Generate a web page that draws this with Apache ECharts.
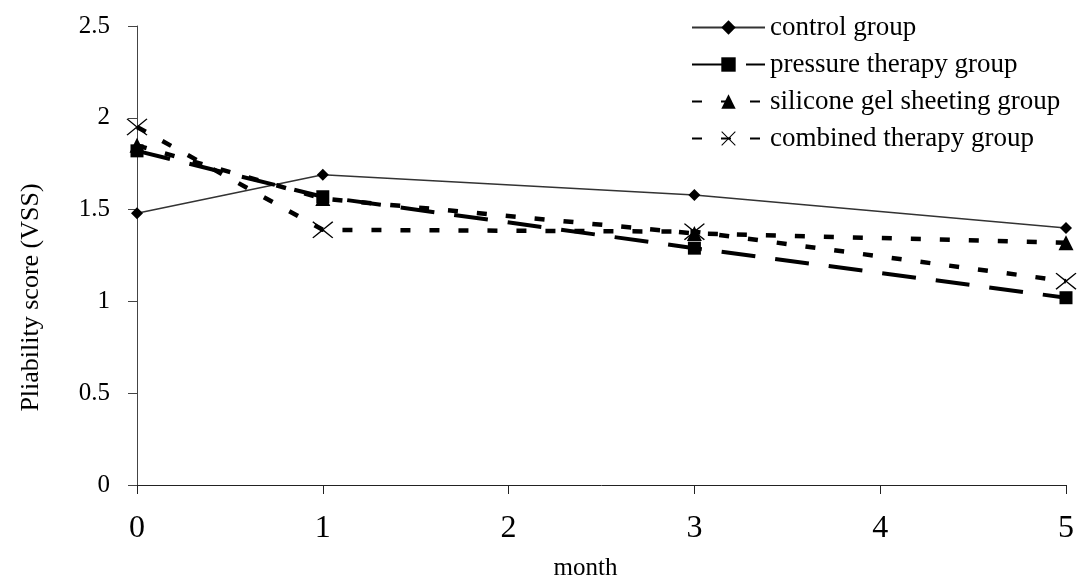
<!DOCTYPE html>
<html>
<head>
<meta charset="utf-8">
<style>
  html, body { margin: 0; padding: 0; background: #fff; }
  #chart { width: 1085px; height: 579px; }
</style>
<script src="https://cdn.jsdelivr.net/npm/echarts@6/dist/echarts.min.js"></script>
</head>
<body>
<div id="chart"></div>
<script>
// months where scores were taken
var months = [0, 1, 3, 5];
var controlGroup = [1.48, 1.69, 1.58, 1.40];
var pressureGroup = [1.82, 1.57, 1.29, 1.02];
var siliconeGroup = [1.85, 1.56, 1.37, 1.32];
var combinedGroup = [1.95, 1.39, 1.38, 1.11];
var seriesNames = ['control group', 'pressure therapy group', 'silicone gel sheeting group', 'combined therapy group'];

(function() {
  var serif = 'Liberation Serif';
  var ink = '#000';
  var crossPath = 'path://M0,1L1,0L10,9L19,0L20,1L11,10L20,19L19,20L10,11L1,20L0,19L9,10Z';

  function pairs(vals) {
    return months.map(function(m, i) { return [m, vals[i]]; });
  }

  var chart = echarts.init(document.getElementById('chart'), null, { renderer: 'canvas' });
  chart.setOption({
    animation: false,
    backgroundColor: '#fff',
    grid: { left: 137, right: 19, top: 26, bottom: 94, outerBoundsMode: 'none', containLabel: false },
    legend: {
      orient: 'vertical',
      left: 686,
      top: 9,
      itemWidth: 73,
      itemHeight: 18,
      itemGap: 10,
      data: seriesNames,
      textStyle: { fontFamily: serif, fontSize: 27, color: ink }
    },
    xAxis: {
      type: 'value',
      min: 0,
      max: 5,
      interval: 1,
      name: 'month',
      nameLocation: 'middle',
      nameGap: 71,
      nameTextStyle: { fontFamily: serif, fontSize: 25, color: ink, padding: [0, 32, 0, 0] },
      axisLine: { lineStyle: { color: '#222', width: 1 } },
      axisTick: { show: true, inside: false, length: 9, lineStyle: { color: '#222' } },
      axisLabel: { fontFamily: serif, fontSize: 32, color: ink, margin: 28 },
      splitLine: { show: false }
    },
    yAxis: {
      type: 'value',
      min: 0,
      max: 2.5,
      interval: 0.5,
      name: 'Pliability score (VSS)',
      nameLocation: 'middle',
      nameRotate: 90,
      nameGap: 93,
      nameTextStyle: { fontFamily: serif, fontSize: 26, color: ink, padding: [0, 84, 0, 0] },
      axisLine: { show: true, lineStyle: { color: '#444', width: 1 } },
      axisTick: { show: true, inside: false, length: 9, lineStyle: { color: '#444' } },
      axisLabel: { fontFamily: serif, fontSize: 25, color: ink, margin: 27 },
      splitLine: { show: false }
    },
    series: [
      {
        name: seriesNames[0],
        type: 'line',
        data: pairs(controlGroup),
        symbol: 'diamond',
        symbolSize: 12,
        itemStyle: { color: ink },
        lineStyle: { color: '#333', width: 1.5, type: 'solid' }
      },
      {
        name: seriesNames[1],
        type: 'line',
        data: pairs(pressureGroup),
        symbol: 'rect',
        symbolSize: 13,
        itemStyle: { color: ink },
        lineStyle: { color: ink, width: 4, type: [34, 20] }
      },
      {
        name: seriesNames[2],
        type: 'line',
        data: pairs(siliconeGroup),
        symbol: 'triangle',
        symbolSize: 15,
        itemStyle: { color: ink },
        lineStyle: { color: ink, width: 4.5, type: [10, 19] }
      },
      {
        name: seriesNames[3],
        type: 'line',
        data: pairs(combinedGroup),
        symbol: crossPath,
        symbolSize: [21, 17],
        itemStyle: { color: ink },
        lineStyle: { color: ink, width: 4.5, type: [10, 19] }
      }
    ]
  });
  window.addEventListener('resize', function() { chart.resize(); });
})();
</script>
</body>
</html>
